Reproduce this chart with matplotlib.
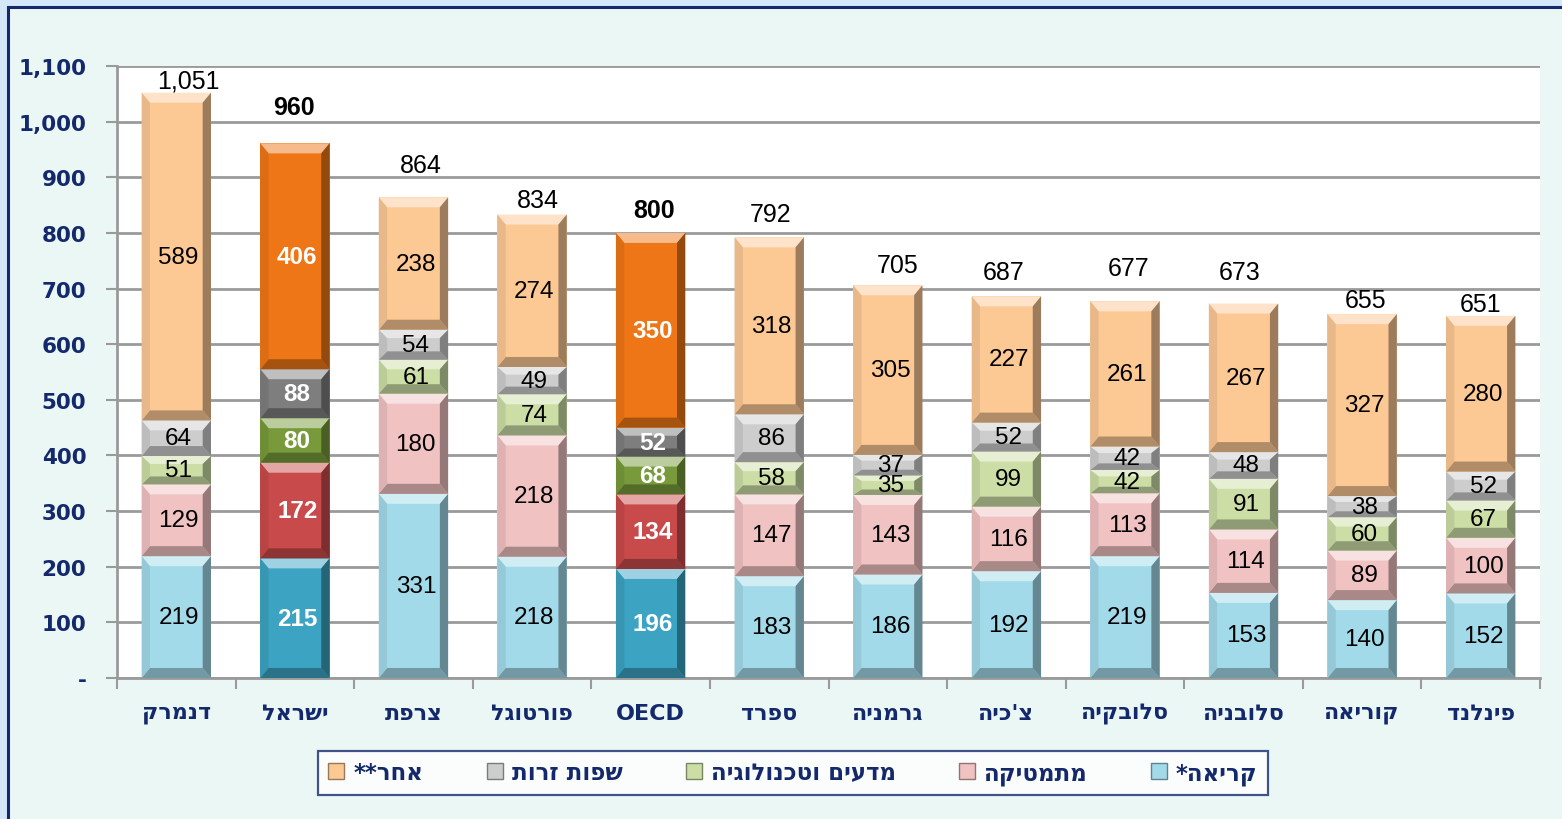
import numpy as np
import matplotlib
matplotlib.use("Agg")
import matplotlib.pyplot as plt
from matplotlib.patches import Rectangle, Polygon, Patch
from matplotlib.colors import to_rgb

# data, left to right as in the picture
countries = ["דנמרק", "ישראל", "צרפת", "פורטוגל", "OECD", "ספרד", "גרמניה",
             "צ'כיה", "סלובקיה", "סלובניה", "קוריאה", "פינלנד"]
reading = [219, 215, 331, 218, 196, 183, 186, 192, 219, 153, 140, 152]
math = [129, 172, 180, 218, 134, 147, 143, 116, 113, 114, 89, 100]
science = [51, 80, 61, 74, 68, 58, 35, 99, 42, 91, 60, 67]
languages = [64, 88, 54, 49, 52, 86, 37, 52, 42, 48, 38, 52]
other = [589, 406, 238, 274, 350, 318, 305, 227, 261, 267, 327, 280]
totals = [1051, 960, 864, 834, 800, 792, 705, 687, 677, 673, 655, 651]
series_names = ["קריאה*", "מתמטיקה", "מדעים וטכנולוגיה", "שפות זרות", "אחר**"]
highlight = ["ישראל", "OECD"]

# where the total labels sit relative to the bar top (pixels, dx / dy)
total_dx = [12, -1, 7, 6, 3, 1, 10, -3, 4, -4, 3, 0]
total_dy = [12, 36, 32, 15, 23, 23, 20, 24, 33, 32, 14, 12]

light_colors = ["#A3DAEA", "#F1C2C2", "#CCDEA6", "#CDCDCD", "#FCC894"]
dark_colors = ["#3CA3C2", "#C94A4A", "#789A3B", "#7E7E7E", "#EF7617"]
NAVY = "#14296B"
NUM_FONT = ["Liberation Sans", "DejaVu Sans"]


def rtl(s):
    # matplotlib lays glyphs out left to right, so reverse Hebrew for visual order
    if any("\u0590" <= c <= "\u05ff" for c in s):
        return s[::-1]
    return s


def mix(c, other_c, t):
    a = np.array(to_rgb(c))
    b = np.array(to_rgb(other_c))
    return tuple(a * (1 - t) + b * t)


def bevel(ax, xc, y0, h, w, color, bx=0.07, by=18):
    x0, x1 = xc - w / 2, xc + w / 2
    y1 = y0 + h
    byy = min(by, h * 0.28)
    pts = [
        ([(x0, y1), (x1, y1), (x1 - bx, y1 - byy), (x0 + bx, y1 - byy)], mix(color, "white", 0.5)),
        ([(x0, y0), (x1, y0), (x1 - bx, y0 + byy), (x0 + bx, y0 + byy)], mix(color, "black", 0.3)),
        ([(x0, y0), (x0 + bx, y0 + byy), (x0 + bx, y1 - byy), (x0, y1)], mix(color, "black", 0.08)),
        ([(x1, y0), (x1 - bx, y0 + byy), (x1 - bx, y1 - byy), (x1, y1)], mix(color, "black", 0.38)),
    ]
    for p, c in pts:
        ax.add_patch(Polygon(p, closed=True, facecolor=c, edgecolor="none", zorder=3))


fig = plt.figure(figsize=(15.62, 8.2), dpi=100)
fig.patch.set_facecolor("#D4E7F8")
fig.patches.append(Rectangle((8 / 1562, -0.1), 1.2, 1 - 8 / 820 + 0.1, transform=fig.transFigure,
                             facecolor="#EBF7F5", edgecolor="#14296B", linewidth=2.2, zorder=-5))

ax = fig.add_axes([117 / 1562, 1 - 679 / 820, (1540 - 117) / 1562, (679 - 67) / 820])
ax.set_facecolor("white")

x = np.arange(len(countries))
width = 0.585
series = [reading, math, science, languages, other]
bottom = np.zeros(len(countries))
for i, vals in enumerate(series):
    cols = [dark_colors[i] if c in highlight else light_colors[i] for c in countries]
    ax.bar(x, vals, width, bottom=bottom, color=cols, edgecolor="none", zorder=2)
    for j, v in enumerate(vals):
        bevel(ax, x[j], bottom[j], v, width, cols[j])
        hl = countries[j] in highlight
        ax.text(x[j] + 0.02, bottom[j] + v / 2, f"{v}", ha="center", va="center",
                fontsize=17.5, family=NUM_FONT, color="white" if hl else "black",
                fontweight="bold" if hl else "normal", zorder=5)
    bottom += np.array(vals)

for j, t in enumerate(totals):
    hl = countries[j] in highlight
    ax.annotate(f"{t:,}", (x[j], bottom[j]), xytext=(total_dx[j] * 0.72, total_dy[j] * 0.72),
                textcoords="offset points", ha="center", va="center", fontsize=18,
                family=NUM_FONT, color="black", fontweight="bold" if hl else "normal", zorder=5)

ax.set_xlim(-0.5, len(countries) - 0.5)
ax.set_ylim(0, 1100)
yt = np.arange(0, 1101, 100)
ax.set_yticks(yt)
ax.set_yticklabels(["-" if v == 0 else f"{v:,}" for v in yt], fontsize=15.5,
                   fontweight="bold", color=NAVY)
ax.yaxis.grid(True, color="#9A9A9A", linewidth=2, zorder=1)
ax.set_axisbelow(True)
ax.tick_params(axis="y", length=8, width=1.5, color="#9A9A9A", pad=14)

ax.set_xticks(x)
ax.set_xticklabels([rtl(c) for c in countries], fontsize=16, fontweight="bold", color=NAVY)
ax.tick_params(axis="x", length=0, pad=18)
ax.set_xticks(np.arange(-0.5, len(countries), 1), minor=True)
ax.tick_params(axis="x", which="minor", length=8, width=1.5, color="#9A9A9A")

for s in ["top", "right"]:
    ax.spines[s].set_visible(False)
for s in ["left", "bottom"]:
    ax.spines[s].set_color("#9A9A9A")
    ax.spines[s].set_linewidth(2)

# legend: visual order is right to left, marker left of text
handles = [Patch(facecolor=light_colors[i], edgecolor=mix(light_colors[i], "black", 0.4),
                 label=rtl(series_names[i])) for i in range(5)][::-1]
leg = fig.legend(handles=handles, loc="center", bbox_to_anchor=(793 / 1562, 1 - 774 / 820),
                 ncol=5, frameon=True, fontsize=16.5, handlelength=0.7, handleheight=0.7,
                 handletextpad=0.4, columnspacing=2.75, borderpad=0.45, fancybox=False)
leg.get_frame().set_edgecolor(NAVY)
leg.get_frame().set_linewidth(1.6)
leg.get_frame().set_facecolor("white")
for t in leg.get_texts():
    t.set_color(NAVY)
    t.set_fontweight("bold")

fig.savefig("out.png", dpi=100, facecolor=fig.get_facecolor())
